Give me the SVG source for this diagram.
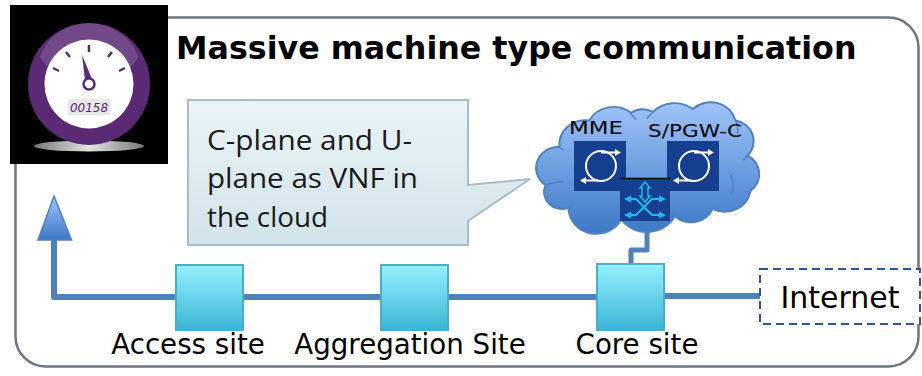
<svg xmlns="http://www.w3.org/2000/svg" width="922" height="376" viewBox="0 0 922 376">
<defs>
<linearGradient id="site" x1="0" y1="0" x2="0" y2="1"><stop offset="0" stop-color="#96f0ff"/><stop offset="1" stop-color="#3ab5d7"/></linearGradient>
<linearGradient id="cloud" x1="0" y1="0" x2="0" y2="1"><stop offset="0" stop-color="#a0c4fa"/><stop offset="1" stop-color="#3c78c6"/></linearGradient>
<linearGradient id="call" x1="0" y1="0" x2="0" y2="1"><stop offset="0" stop-color="#eaf4f7"/><stop offset="1" stop-color="#d2e3ea"/></linearGradient>
<linearGradient id="disc" x1="0" y1="0" x2="1" y2="0"><stop offset="0" stop-color="#777"/><stop offset=".5" stop-color="#e4e4e4"/><stop offset="1" stop-color="#777"/></linearGradient>
<g id="ring">
<circle cx="27" cy="25" r="15" fill="none" stroke="#fff" stroke-width="2"/>
<path d="M27,11.500H44M24,39.500H8" fill="none" stroke="#fff" stroke-width="2"/>
<path d="M47,11.500L41,8V15ZM6,39.500L12,36V43Z" fill="#fff"/>
</g>
</defs>
<style>
text{font-family:"DejaVu Sans",Verdana,sans-serif;fill:#000}
.site{fill:url(#site);stroke:#49afcc;stroke-width:2}
.lbl{font-size:27.700px;text-anchor:middle}
.line{fill:none;stroke:#4f81bd;stroke-width:6;stroke-linejoin:round}
.box{fill:#173f8f}
.c{fill:none;stroke:#16bdf0;stroke-width:2}
.nf{font-size:18px}
.cap{font-family:"Open Sans",sans-serif;font-size:28px;fill:#1a1a1a}
</style>
<rect id="frame" x="15.500" y="17.500" width="903" height="349" rx="30" fill="#fff" stroke="#6d7782" stroke-width="2.500"/>
<g id="connectors">
<path class="line" d="M54,238V297H176"/>
<path class="line" d="M243,297H381"/>
<path class="line" d="M449,297H597"/>
<path class="line" d="M665,296H760"/>
<path class="line" d="M647,232V250H631V264" style="stroke-width:5"/>
</g>
<g id="uplink-arrow"><path d="M54,196L71.500,240H38Z" fill="url(#cloud)" stroke="#4f81bd" stroke-width="1.500"/></g>
<g id="meter">
<rect x="10" y="5" width="158" height="159" fill="#000"/>
<ellipse cx="89" cy="146" rx="55" ry="5.500" fill="url(#disc)"/>
<circle cx="89" cy="84" r="61" fill="#5b2a74"/>
<circle cx="89" cy="84" r="44.500" fill="#fff"/>
<path d="M40,57C55,12 123,12 138,57C122,88 56,88 40,57Z" fill="#fff" fill-opacity=".14"/>
<g stroke="#5b2a74" stroke-width="2.500"><path d="M89,45V52M66,52L70,57M53,68L59,71M112,52L108,57M125,68L119,71"/></g>
<path d="M82,55L92,79L85,80Z" fill="#5b2a74"/>
<circle cx="89" cy="84" r="5.500" fill="#fff" stroke="#5b2a74" stroke-width="2.500"/>
<rect x="68" y="99" width="42" height="16" fill="#e8e8e8"/>
<text x="89" y="112" font-size="12" font-style="italic" text-anchor="middle" style="fill:#5b2a74">00158</text>
</g>
<g id="title"><text x="176" y="59" font-size="31.700" font-weight="700">Massive machine type communication</text></g>
<g id="callout">
<path d="M188,100H468V185L530,179L468,221V245H188Z" fill="url(#call)" stroke="#a9bdc4" stroke-width="2"/>
<text class="cap" x="207" y="150" textLength="205" lengthAdjust="spacingAndGlyphs">C-plane and U-</text>
<text class="cap" x="207" y="188" textLength="211" lengthAdjust="spacingAndGlyphs">plane as VNF in</text>
<text class="cap" x="207" y="227" textLength="121" lengthAdjust="spacingAndGlyphs">the cloud</text>
</g>
<g id="cloud-node">
<g transform="translate(648,167) scale(.995,.95) translate(-645,-167)">
<path d="M556,146A26,26 0 0 1 586,118A28,28 0 0 1 628,110A20,20 0 0 1 650,109A30,30 0 0 1 690,106A26,26 0 0 1 733,118A22,22 0 0 1 745,155A22,22 0 0 1 748,192A26,26 0 0 1 710,211A24,24 0 0 1 672,219A32,32 0 0 1 618,222A28,28 0 0 1 565,210A18,18 0 0 1 542,186A22,22 0 0 1 556,146Z" fill="url(#cloud)" stroke="#4f81bd" stroke-width="2"/>
<path d="M556,146A24,24 0 0 0 560,149M542,186Q550,183 560,182M565,210L570,207M627,110L633,117M650,109L644,116M733,118Q736,125 735,132M745,155L741,160M728,175Q733,185 728,196M672,219L668,213M618,222L615,216" fill="none" stroke="#4f81bd" stroke-width="1.500"/>
</g>
</g>
<g id="mme">
<rect class="box" x="574" y="141" width="52" height="50"/>
<use href="#ring" x="574" y="141"/>
<text class="nf" x="569" y="134" textLength="54" lengthAdjust="spacingAndGlyphs">MME</text>
</g>
<g id="sgw">
<rect class="box" x="667" y="141" width="52" height="50"/>
<use href="#ring" x="667" y="141"/>
<text class="nf" x="648" y="137" textLength="94" lengthAdjust="spacingAndGlyphs">S/PGW-C</text>
</g>
<g id="switch">
<rect class="box" x="620" y="178" width="50" height="43"/>
<path d="M620,178.500H670" stroke="#000" stroke-width="1.500"/>
<path class="c" d="M627,199H636L652,215H663M627,215H636L652,199H663"/>
<path d="M624,199L631,195.500V202.500ZM666,199L659,195.500V202.500ZM624,215L631,211.500V218.500ZM666,215L659,211.500V218.500Z" fill="#16bdf0"/>
<path d="M645,182L650,188H648V196H650L645,202L640,196H642V188H640Z" fill="none" stroke="#16bdf0" stroke-width="1.500"/>
</g>
<g id="access"><rect class="site" x="176" y="265" width="67" height="65"/><text class="lbl" x="188" y="354">Access site</text></g>
<g id="aggregation"><rect class="site" x="381" y="265" width="67" height="65"/><text class="lbl" x="410" y="354">Aggregation Site</text></g>
<g id="core"><rect class="site" x="597" y="264" width="67" height="66"/><text class="lbl" x="637" y="354">Core site</text></g>
<g id="internet"><rect x="760" y="269" width="160" height="55" fill="#fff" stroke="#2f559f" stroke-width="2" stroke-dasharray="8 5"/><text x="840" y="308" font-size="30" text-anchor="middle">Internet</text></g>
</svg>
